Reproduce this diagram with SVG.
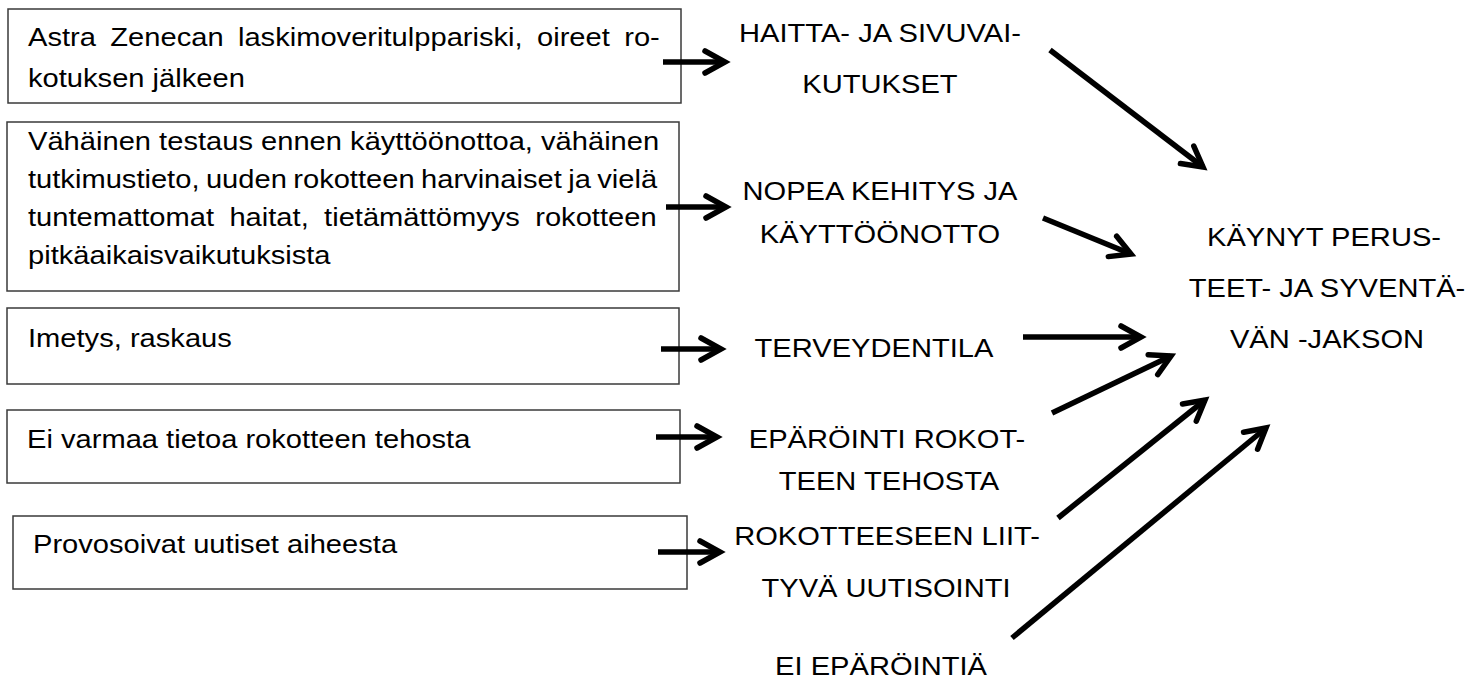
<svg xmlns="http://www.w3.org/2000/svg" width="1481" height="679" viewBox="0 0 1481 679">
<style>
  .box { fill: #ffffff; stroke: #3a3a3a; stroke-width: 1.5; }
  text { font-family: "Liberation Sans", Arial, sans-serif; font-size: 26px; fill: #000000; }
  .c { text-anchor: middle; }
  .arr { stroke: #000000; stroke-width: 5.5; fill: none; marker-end: url(#chev); }
</style>
<defs>
  <marker id="chev" markerUnits="userSpaceOnUse" markerWidth="40" markerHeight="40" refX="0" refY="0" orient="auto" overflow="visible">
    <path d="M-20,-11 L0,0 L-20,11" fill="none" stroke="#000000" stroke-width="5.5" stroke-linecap="round" stroke-linejoin="miter"/>
  </marker>
</defs>
<rect width="1481" height="679" fill="#ffffff"/>

<g id="box1">
  <rect class="box" x="8" y="9" width="673" height="94"/>
  <text transform="translate(28 46) scale(1.12 1)" word-spacing="5.6">Astra Zenecan laskimoveritulppariski, oireet ro-</text>
  <text transform="translate(28 87) scale(1.12 1)">kotuksen jälkeen</text>
</g>
<g id="box2">
  <rect class="box" x="7" y="122" width="672" height="169"/>
  <text transform="translate(28 150) scale(1.12 1)">Vähäinen testaus ennen käyttöönottoa, vähäinen</text>
  <text transform="translate(28 188) scale(1.12 1)" word-spacing="-1.5">tutkimustieto, uuden rokotteen harvinaiset ja vielä</text>
  <text transform="translate(28 226) scale(1.12 1)" word-spacing="6.5">tuntemattomat haitat, tietämättömyys rokotteen</text>
  <text transform="translate(28 264) scale(1.12 1)">pitkäaikaisvaikutuksista</text>
</g>
<g id="box3">
  <rect class="box" x="7" y="308" width="672" height="76"/>
  <text transform="translate(28 346.5) scale(1.12 1)">Imetys, raskaus</text>
</g>
<g id="box4">
  <rect class="box" x="7" y="410" width="673" height="73"/>
  <text transform="translate(27 447.5) scale(1.12 1)">Ei varmaa tietoa rokotteen tehosta</text>
</g>
<g id="box5">
  <rect class="box" x="13" y="516" width="674" height="73"/>
  <text transform="translate(33 553) scale(1.12 1)">Provosoivat uutiset aiheesta</text>
</g>

<g id="label-haitta">
  <text class="c" transform="translate(880 42) scale(1.12 1)">HAITTA- JA SIVUVAI-</text>
  <text class="c" transform="translate(880 93) scale(1.12 1)">KUTUKSET</text>
</g>
<g id="label-nopea">
  <text class="c" transform="translate(880 200) scale(1.12 1)">NOPEA KEHITYS JA</text>
  <text class="c" transform="translate(880 243) scale(1.12 1)">KÄYTTÖÖNOTTO</text>
</g>
<g id="label-terveydentila">
  <text class="c" transform="translate(874 357) scale(1.12 1)">TERVEYDENTILA</text>
</g>
<g id="label-eparointi">
  <text class="c" transform="translate(887 448) scale(1.12 1)">EPÄRÖINTI ROKOT-</text>
  <text class="c" transform="translate(889 490) scale(1.12 1)">TEEN TEHOSTA</text>
</g>
<g id="label-uutisointi">
  <text class="c" transform="translate(887 545) scale(1.12 1)">ROKOTTEESEEN LIIT-</text>
  <text class="c" transform="translate(886 597) scale(1.12 1)">TYVÄ UUTISOINTI</text>
</g>
<g id="label-ei-eparointia">
  <text class="c" transform="translate(881 675) scale(1.12 1)">EI EPÄRÖINTIÄ</text>
</g>
<g id="label-kaynyt">
  <text class="c" transform="translate(1324 246) scale(1.12 1)">KÄYNYT PERUS-</text>
  <text class="c" transform="translate(1327 297) scale(1.12 1)">TEET- JA SYVENTÄ-</text>
  <text class="c" transform="translate(1327 348) scale(1.12 1)">VÄN -JAKSON</text>
</g>

<g id="connectors">
  <line class="arr" x1="663" y1="62" x2="725" y2="62"/>
  <line class="arr" x1="666" y1="207" x2="726" y2="207"/>
  <line class="arr" x1="661" y1="349" x2="721" y2="349"/>
  <line class="arr" x1="656" y1="437" x2="717" y2="437"/>
  <line class="arr" x1="658" y1="552" x2="720" y2="552"/>
  <line class="arr" x1="1050" y1="50" x2="1203" y2="167"/>
  <line class="arr" x1="1043" y1="218" x2="1131" y2="254"/>
  <line class="arr" x1="1023" y1="337" x2="1141" y2="337"/>
  <line class="arr" x1="1052" y1="413" x2="1171" y2="356"/>
  <line class="arr" x1="1058" y1="518" x2="1205" y2="400"/>
  <line class="arr" x1="1012" y1="638" x2="1266" y2="428"/>
</g>
</svg>
